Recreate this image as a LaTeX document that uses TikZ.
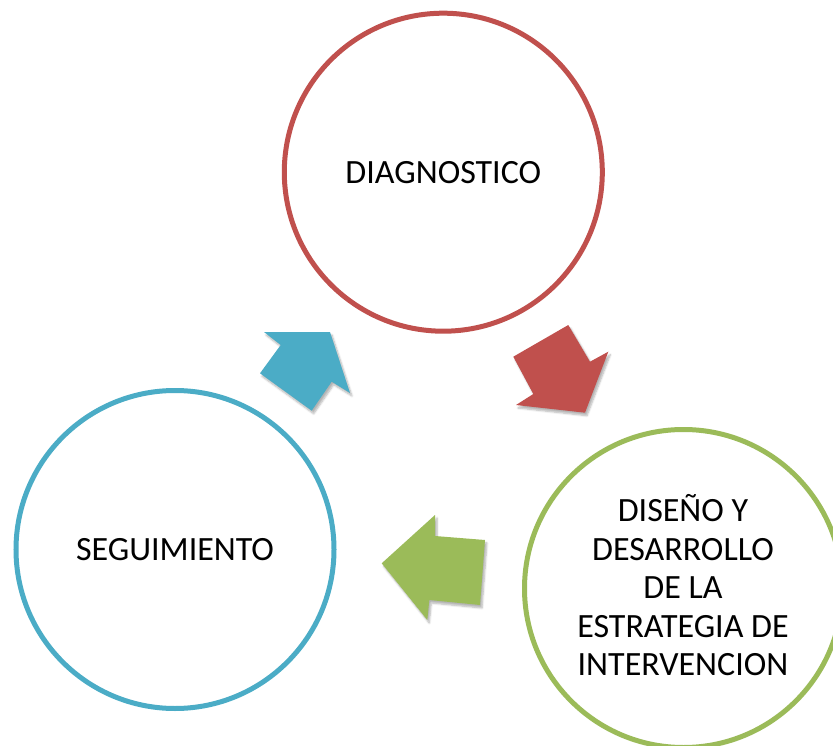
\documentclass[tikz,border=0pt]{standalone}
\usepackage{fontspec}
\setmainfont{Carlito}
\usetikzlibrary{shadows.blur}
\definecolor{cred}{HTML}{C0504D}
\definecolor{cblue}{HTML}{4BACC6}
\definecolor{cgreen}{HTML}{9BBB59}
\tikzset{
  stage/.style={circle, draw=#1, line width=5pt, fill=white, minimum size=318pt,
    inner sep=0pt, align=center, font=\fontsize{34}{38.5}\selectfont},
  blockarrow/.style={fill=#1, draw=none,
    blur shadow={shadow xshift=2pt, shadow yshift=-3pt, shadow blur steps=6, shadow opacity=30}}
}
\begin{document}
\begin{tikzpicture}[x=1pt, y=-1pt]
\useasboundingbox (0,0) rectangle (833,746);
\node[stage=cred] (diag) at (443.3,172.2) {DIAGNOSTICO};
\node[stage=cblue] (seg) at (175,549.5) {SEGUIMIENTO};
\node[stage=cgreen] (dis) at (683.5,588.5) {};
\node[align=center, font=\fontsize{34}{38.5}\selectfont, inner sep=0pt] (distext) at (683,585.5)
  {DISEÑO Y\\DESARROLLO\\DE LA\\ESTRATEGIA DE\\INTERVENCION};
% blue arrow (seg -> diag)
\fill[blockarrow=cblue] (330,332) -- (350,393) -- (331.7,381.7) -- (311.7,410.7)
  -- (260,373.3) -- (280.7,345) -- (264,332) -- cycle;
% red arrow (diag -> dis)
\fill[blockarrow=cred] (585,412.7) -- (516,405) -- (533.3,394) -- (513.3,356.7)
  -- (568.3,325) -- (590,361.7) -- (608.3,351.7) -- cycle;
% green arrow (dis -> seg)
\fill[blockarrow=cgreen] (381.7,563.3) -- (435,515) -- (435,536) -- (485,540)
  -- (480,605) -- (429.3,600) -- (427.3,620) -- cycle;
\end{tikzpicture}
\end{document}
